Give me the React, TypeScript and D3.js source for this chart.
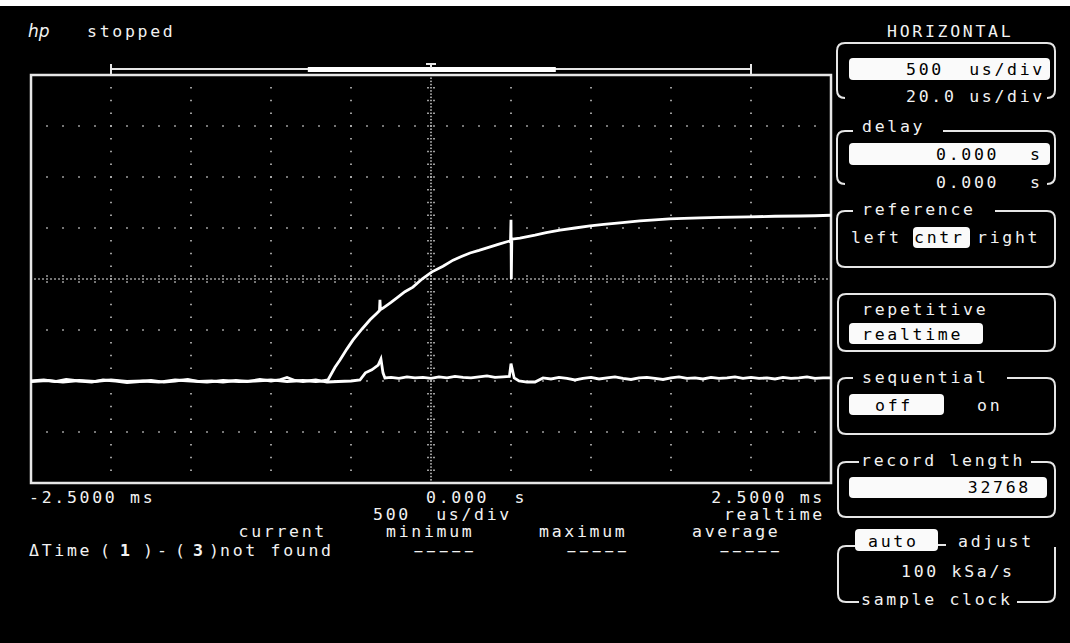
import * as d3 from 'd3';

// screen: 10 horizontal divisions of 0.5 ms, 8 vertical divisions
const timeSpan: [number, number] = [-2.5, 2.5];
const divSpan: [number, number] = [-4, 4];

// channel traces, [time ms, vertical divisions]
const lowerTrace: [number, number][] = [
  [-2.5, -2.0], [-2.42, -1.98], [-2.35, -2.01], [-2.28, -1.97], [-2.2, -2.0], [-2.12, -2.02],
  [-2.05, -1.98], [-1.97, -2.0], [-1.9, -2.03], [-1.82, -2.01], [-1.75, -1.99], [-1.67, -2.02],
  [-1.6, -2.0], [-1.52, -1.97], [-1.45, -2.01], [-1.37, -2.0], [-1.3, -2.02], [-1.22, -1.99],
  [-1.15, -2.01], [-1.07, -1.97], [-1.0, -2.0], [-0.95, -1.98], [-0.9, -1.93], [-0.85, -1.99],
  [-0.8, -2.01], [-0.72, -1.98], [-0.65, -2.02], [-0.58, -2.01], [-0.5, -2.0], [-0.444, -1.98],
  [-0.41, -1.84], [-0.37, -1.78], [-0.33, -1.69], [-0.313, -1.57], [-0.3, -1.84], [-0.288, -1.94],
  [-0.25, -1.93], [-0.2, -1.95], [-0.15, -1.92], [-0.1, -1.94], [-0.05, -1.93], [0.0, -1.95],
  [0.05, -1.92], [0.1, -1.94], [0.15, -1.91], [0.2, -1.93], [0.25, -1.94], [0.3, -1.92],
  [0.35, -1.9], [0.4, -1.93], [0.45, -1.92], [0.49, -1.91], [0.5, -1.66], [0.52, -1.94],
  [0.55, -2.0], [0.6, -2.02], [0.65, -2.02], [0.7, -1.94], [0.75, -1.96], [0.8, -1.93],
  [0.85, -1.95], [0.9, -1.98], [0.95, -1.95], [1.0, -1.93], [1.05, -1.96], [1.1, -1.94],
  [1.15, -1.92], [1.2, -1.95], [1.25, -1.97], [1.3, -1.94], [1.35, -1.93], [1.4, -1.95],
  [1.45, -1.97], [1.5, -1.94], [1.55, -1.92], [1.6, -1.95], [1.65, -1.94], [1.7, -1.96],
  [1.75, -1.93], [1.8, -1.95], [1.85, -1.94], [1.9, -1.92], [1.95, -1.95], [2.0, -1.93],
  [2.05, -1.95], [2.1, -1.94], [2.15, -1.96], [2.2, -1.93], [2.25, -1.95], [2.3, -1.94],
  [2.35, -1.92], [2.4, -1.95], [2.45, -1.94], [2.5, -1.94]
];

const upperTrace: [number, number][] = [
  [-2.5, -2.01], [-2.4, -1.99], [-2.3, -2.02], [-2.2, -1.99], [-2.1, -2.01], [-2.0, -1.98],
  [-1.9, -2.01], [-1.8, -2.0], [-1.7, -2.02], [-1.6, -1.98], [-1.5, -2.0], [-1.4, -2.02],
  [-1.3, -1.99], [-1.2, -2.01], [-1.1, -2.0], [-1.0, -1.98], [-0.9, -2.01], [-0.8, -1.99],
  [-0.72, -2.01], [-0.68, -2.0], [-0.644, -1.98], [-0.6, -1.73], [-0.569, -1.59], [-0.525, -1.37],
  [-0.488, -1.2], [-0.431, -0.98], [-0.381, -0.8], [-0.335, -0.66], [-0.322, -0.62], [-0.319, -0.41],
  [-0.316, -0.6], [-0.3, -0.57], [-0.25, -0.46], [-0.213, -0.37], [-0.163, -0.25], [-0.113, -0.16],
  [-0.056, 0.0], [0.006, 0.14], [0.075, 0.25], [0.138, 0.37], [0.19, 0.44], [0.244, 0.51],
  [0.3, 0.56], [0.35, 0.61], [0.43, 0.69], [0.475, 0.73], [0.497, 0.75], [0.5, 1.16],
  [0.502, 0.0], [0.505, 0.78], [0.556, 0.8], [0.65, 0.86], [0.72, 0.91], [0.806, 0.96],
  [0.9, 1.0], [0.994, 1.04], [1.08, 1.07], [1.18, 1.1], [1.306, 1.14], [1.4, 1.16],
  [1.49, 1.18], [1.58, 1.19], [1.68, 1.2], [1.8, 1.21], [1.99, 1.22], [2.15, 1.23],
  [2.31, 1.235], [2.4, 1.24], [2.5, 1.25]
];

const statHeaders = ['current', 'minimum', 'maximum', 'average'];
const statValues = ['-----', '-----', '-----'];
const timeLabels = ['-2.5000 ms', '0.000  s', '2.5000 ms'];
const memoryBar: [number, number] = [-0.77, 0.78];

const W = 1070;
const H = 643;
const FONT = '"DejaVu Sans Mono", monospace';
const FG = '#f2f2f2';

const x = d3.scaleLinear().domain(timeSpan).range([31, 831]);
const y = d3.scaleLinear().domain(divSpan).range([483, 75]);

function T({ x: tx, y: ty, anchor = 'start', fill = FG, weight = 'normal', children }: any) {
  return (
    <text
      x={tx}
      y={ty}
      textAnchor={anchor}
      fill={fill}
      fontFamily={FONT}
      fontSize={16.5}
      fontWeight={weight}
      letterSpacing={2.7}
      style={{ whiteSpace: 'pre' }}
    >
      {children}
    </text>
  );
}

// dashes drawn stretched so they read as the long scope dashes
function Dashes({ x: tx, y: ty, children }: any) {
  return (
    <text
      transform={`translate(${tx},${ty}) scale(1.9,1)`}
      fill={FG}
      fontFamily={FONT}
      fontSize={16.5}
      letterSpacing={-3.3}
    >
      {children}
    </text>
  );
}

// rounded panel outline, optional gap in the top edge for a label, optional open bottom
function panel(x0: number, y0: number, x1: number, y1: number, gap?: [number, number], open = false) {
  const r = 8;
  const p = d3.path();
  p.moveTo(gap ? gap[1] : x0 + r, y0);
  p.lineTo(x1 - r, y0);
  p.quadraticCurveTo(x1, y0, x1, y0 + r);
  p.lineTo(x1, y1 - r);
  p.quadraticCurveTo(x1, y1, x1 - r, y1);
  if (open) p.moveTo(x0 + r, y1);
  else p.lineTo(x0 + r, y1);
  p.quadraticCurveTo(x0, y1, x0, y1 - r);
  p.lineTo(x0, y0 + r);
  p.quadraticCurveTo(x0, y0, x0 + r, y0);
  if (gap) p.lineTo(gap[0], y0);
  return p.toString();
}

function clockPanel() {
  const p = d3.path();
  p.moveTo(855, 546);
  p.lineTo(846, 546);
  p.quadraticCurveTo(838, 546, 838, 554);
  p.lineTo(838, 594);
  p.quadraticCurveTo(838, 602, 846, 602);
  p.lineTo(859, 602);
  p.moveTo(1017, 602);
  p.lineTo(1047, 602);
  p.quadraticCurveTo(1055, 602, 1055, 594);
  p.lineTo(1055, 547);
  p.moveTo(938, 545);
  p.lineTo(946, 545);
  return p.toString();
}

export default function App() {
  const line = d3
    .line<[number, number]>()
    .x((d) => x(d[0]))
    .y((d) => y(d[1]));

  const dots: [number, number][] = [];
  // vertical graticule lines
  d3.range(-2, 2.01, 0.5).forEach((t) => {
    if (Math.abs(t) < 1e-9) return;
    d3.range(-3.75, 3.8, 0.25).forEach((v) => dots.push([x(t), y(v)]));
  });
  // horizontal graticule lines
  [-3, -2, -1, 1, 2, 3].forEach((v) => {
    d3.range(-2.4, 2.45, 0.1).forEach((t) => dots.push([x(t), y(v)]));
  });
  // centre axes, dense with side ticks
  d3.range(-4, 4.001, 0.0625).forEach((v) => dots.push([x(0), y(v)]));
  d3.range(-3.75, 3.8, 0.25).forEach((v) => {
    dots.push([x(0) - 3, y(v)]);
    dots.push([x(0) + 3, y(v)]);
  });
  d3.range(-2.5, 2.501, 0.025).forEach((t) => dots.push([x(t), y(0)]));
  d3.range(-2.4, 2.45, 0.1).forEach((t) => {
    dots.push([x(t), y(0) - 3]);
    dots.push([x(t), y(0) + 3]);
  });

  const stroke = '#e6e6e6';
  const hl = (x0: number, y0: number, x1: number, y1: number) => (
    <rect x={x0} y={y0} width={x1 - x0} height={y1 - y0} rx={4} fill="#fafafa" />
  );

  return (
    <svg
      width={W}
      height={H}
      style={{ position: 'absolute', left: 0, top: 0, display: 'block' }}
    >
      <rect width={W} height={H} fill="#000" />
      <rect width={W} height={6} fill="#fff" />

      {/* header */}
      <text x={28} y={37} fill={FG} fontFamily='"DejaVu Sans", sans-serif' fontStyle="italic" fontSize={17} fontWeight={300}>
        hp
      </text>
      <T x={87} y={37}>stopped</T>

      {/* memory ruler */}
      <line x1={x(-2)} x2={x(2)} y1={69} y2={69} stroke={stroke} strokeWidth={2} />
      <line x1={x(-2)} x2={x(-2)} y1={64} y2={74} stroke={stroke} strokeWidth={2} />
      <line x1={x(2)} x2={x(2)} y1={64} y2={74} stroke={stroke} strokeWidth={2} />
      <rect x={x(memoryBar[0])} y={67} width={x(memoryBar[1]) - x(memoryBar[0])} height={5} fill="#fff" />
      <line x1={x(0) - 5} x2={x(0) + 5} y1={64} y2={64} stroke={stroke} strokeWidth={2} />
      <line x1={x(0)} x2={x(0)} y1={64} y2={68} stroke={stroke} strokeWidth={2} />

      {/* graticule */}
      {dots.map((d, i) => (
        <rect key={i} x={d[0] - 0.75} y={d[1] - 0.75} width={1.5} height={1.5} fill="#cfcfcf" />
      ))}
      <rect x={x(-2.5)} y={y(4)} width={x(2.5) - x(-2.5)} height={y(-4) - y(4)} fill="none" stroke={stroke} strokeWidth={2.5} />

      {/* traces */}
      <path d={line(lowerTrace) ?? ''} fill="none" stroke="#fff" strokeWidth={2.8} />
      <path d={line(upperTrace) ?? ''} fill="none" stroke="#fff" strokeWidth={2.8} />

      {/* time labels */}
      <T x={29} y={503}>{timeLabels[0]}</T>
      <T x={426} y={503}>{timeLabels[1]}</T>
      <T x={825} y={503} anchor="end">{timeLabels[2]}</T>
      <T x={373} y={520}>500  us/div</T>
      <T x={825} y={520} anchor="end">realtime</T>

      {/* measurement table */}
      <T x={327} y={537} anchor="end">{statHeaders[0]}</T>
      <T x={386} y={537}>{statHeaders[1]}</T>
      <T x={539} y={537}>{statHeaders[2]}</T>
      <T x={692} y={537}>{statHeaders[3]}</T>
      <T x={29} y={556}>ΔTime</T>
      <T x={100} y={556}>(</T>
      <T x={120} y={556} weight="bold">1</T>
      <T x={143} y={556}>)</T>
      <T x={157} y={556}>-</T>
      <T x={175} y={556}>(</T>
      <T x={193} y={556} weight="bold">3</T>
      <T x={209} y={556}>)</T>
      <T x={220} y={556}>not found</T>
      <Dashes x={409} y={556}>{statValues[0]}</Dashes>
      <Dashes x={562} y={556}>{statValues[1]}</Dashes>
      <Dashes x={715} y={556}>{statValues[2]}</Dashes>

      {/* right side menu */}
      <g fill="none" stroke={stroke} strokeWidth={2}>
        <path d={panel(837, 43, 1055, 98, undefined, true)} />
        <path d={panel(837, 131, 1055, 184, [853, 943], true)} />
        <path d={panel(837, 211, 1055, 267, [853, 995])} />
        <path d={panel(838, 294, 1055, 351)} />
        <path d={panel(838, 378, 1055, 434, [853, 1007])} />
        <path d={panel(838, 462, 1055, 517, [859, 1031])} />
        <path d={clockPanel()} />
      </g>

      <T x={887} y={37}>HORIZONTAL</T>
      {hl(849, 58, 1050, 80)}
      <T x={1045} y={75} anchor="end" fill="#000">500  us/div</T>
      <T x={1045} y={102} anchor="end">20.0 us/div</T>

      <T x={862} y={132}>delay</T>
      {hl(849, 143, 1050, 165)}
      <T x={936} y={160} fill="#000">0.000</T>
      <T x={1030} y={160} fill="#000">s</T>
      <T x={936} y={188}>0.000</T>
      <T x={1030} y={188}>s</T>

      <T x={862} y={215}>reference</T>
      <T x={851} y={243}>left</T>
      {hl(913, 227, 970, 248)}
      <T x={914} y={243} fill="#000">cntr</T>
      <T x={977} y={243}>right</T>

      <T x={862} y={315}>repetitive</T>
      {hl(849, 323, 983, 344)}
      <T x={862} y={340} fill="#000">realtime</T>

      <T x={862} y={383}>sequential</T>
      {hl(849, 394, 944, 415)}
      <T x={875} y={411} fill="#000">off</T>
      <T x={977} y={411}>on</T>

      <T x={861} y={466}>record length</T>
      {hl(849, 477, 1047, 498)}
      <T x={1031} y={493} anchor="end" fill="#000">32768</T>

      {hl(855, 529, 938, 551)}
      <T x={868} y={547} fill="#000">auto</T>
      <T x={958} y={547}>adjust</T>
      <T x={901} y={577}>100 kSa/s</T>
      <T x={861} y={605}>sample clock</T>
    </svg>
  );
}
